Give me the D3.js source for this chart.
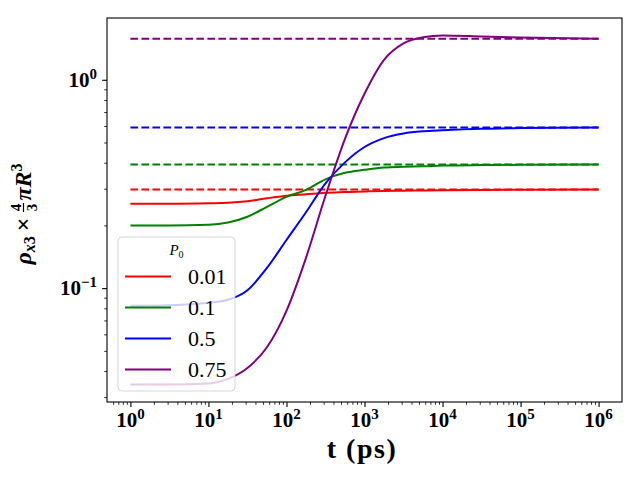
<!DOCTYPE html>
<html>
<head>
<meta charset="utf-8">
<script src="https://cdn.jsdelivr.net/npm/d3@7"></script>
<style>
  body { margin: 0; background: #fff; }
  svg { display: block; font-family: "Liberation Serif", "DejaVu Serif", serif; }
</style>
</head>
<body>
<svg width="640" height="480"></svg>
<script>
// time grid in ps (shared by all the curves)
var times = [1, 3.16, 10, 17.8, 31.6, 56.2, 100, 178, 316, 562, 1000, 1780, 3160, 5620, 10000, 31600, 100000, 1000000];

// legend labels (P0) and colours
var p0Labels = ["0.01", "0.1", "0.5", "0.75"];
var colors = ["red", "green", "blue", "purple"];

// rho_x3 * 4/3 pi R^3 for each P0
var rhoP001 = [0.254, 0.254, 0.2554, 0.2568, 0.2611, 0.2698, 0.2774, 0.282, 0.2868, 0.289, 0.2909, 0.2925, 0.2935, 0.2944, 0.2951, 0.2961, 0.2964, 0.2971];
var rhoP01 = [0.1998, 0.1998, 0.2013, 0.2064, 0.22, 0.2456, 0.2744, 0.2963, 0.3329, 0.3576, 0.3697, 0.3793, 0.3822, 0.3843, 0.3873, 0.3895, 0.3908, 0.3921];
var rhoP05 = [0.0822, 0.0827, 0.085, 0.0879, 0.0977, 0.125, 0.1702, 0.2312, 0.3181, 0.4014, 0.4757, 0.525, 0.5524, 0.5659, 0.5722, 0.5818, 0.5863, 0.5902];
var rhoP075 = [0.0345, 0.0345, 0.0349, 0.0367, 0.0414, 0.052, 0.0778, 0.1398, 0.2774, 0.5209, 0.8565, 1.247, 1.497, 1.6, 1.632, 1.614, 1.594, 1.573];

// dashed equilibrium levels
var plateaus = [0.2974, 0.392, 0.590, 1.573];

// tick values
var xMajorExp = [0, 1, 2, 3, 4, 5, 6];
var yMajorExp = [-1, 0];

var series = [rhoP001, rhoP01, rhoP05, rhoP075];

var svg = d3.select("svg"),
    margin = {top: 18, right: 18, bottom: 78, left: 107},
    width = +svg.attr("width") - margin.left - margin.right,
    height = +svg.attr("height") - margin.top - margin.bottom;

var x = d3.scaleLog().domain([Math.pow(10, -0.3), Math.pow(10, 6.3)]).range([0, width]),
    y = d3.scaleLog().domain([Math.pow(10, -1.5465), Math.pow(10, 0.2965)]).range([height, 0]);

var g = svg.append("g")
    .attr("transform", "translate(" + margin.left + "," + margin.top + ")");

// minor tick positions 2..9 x 10^k inside the domain
function minors(scale) {
    var d = scale.domain(), out = [];
    for (var k = -3; k <= 7; k++) {
        for (var m = 2; m <= 9; m++) {
            var v = m * Math.pow(10, k);
            if (v >= d[0] && v <= d[1]) out.push(v);
        }
    }
    return out;
}

function styleAxis(sel, w) {
    sel.select(".domain").remove();
    sel.selectAll("line").attr("stroke", "#000").attr("stroke-width", w);
}

// x axis ticks
g.append("g")
    .attr("transform", "translate(0," + height + ")")
    .call(d3.axisBottom(x).tickValues(minors(x)).tickSize(2.8).tickFormat(""))
    .call(styleAxis, 0.8);
g.append("g")
    .attr("transform", "translate(0," + height + ")")
    .call(d3.axisBottom(x).tickValues(xMajorExp.map(function (e) { return Math.pow(10, e); })).tickSize(4.9).tickFormat(""))
    .call(styleAxis, 1.1);

// y axis ticks
g.append("g")
    .call(d3.axisLeft(y).tickValues(minors(y)).tickSize(2.8).tickFormat(""))
    .call(styleAxis, 0.8);
g.append("g")
    .call(d3.axisLeft(y).tickValues(yMajorExp.map(function (e) { return Math.pow(10, e); })).tickSize(4.9).tickFormat(""))
    .call(styleAxis, 1.1);

// tick labels as 10^k with superscripts
function expText(e) { return e < 0 ? "\u2212" + (-e) : "" + e; }

var xl = g.selectAll(".xlab").data(xMajorExp).enter().append("text")
    .attr("class", "xlab")
    .attr("x", function (e) { return x(Math.pow(10, e)); })
    .attr("y", height + 25)
    .attr("text-anchor", "middle")
    .attr("font-weight", "bold")
    .attr("font-size", 21);
xl.append("tspan").text("10");
xl.append("tspan").attr("dy", -8).attr("font-size", 15).text(function (e) { return expText(e); });

var yl = g.selectAll(".ylab").data(yMajorExp).enter().append("text")
    .attr("class", "ylab")
    .attr("x", -10)
    .attr("y", function (e) { return y(Math.pow(10, e)) + 7; })
    .attr("text-anchor", "end")
    .attr("font-weight", "bold")
    .attr("font-size", 21);
yl.append("tspan").text("10");
yl.append("tspan").attr("dy", -8).attr("font-size", 15).text(function (e) { return expText(e); });

// curves + dashed levels
var line = d3.line()
    .x(function (d) { return x(d[0]); })
    .y(function (d) { return y(d[1]); })
    .curve(d3.curveMonotoneX);

series.forEach(function (vals, i) {
    g.append("path")
        .datum(times.map(function (t, j) { return [t, vals[j]]; }))
        .attr("fill", "none")
        .attr("stroke", colors[i])
        .attr("stroke-width", 2)
        .attr("d", line);
    g.append("line")
        .attr("x1", x(times[0]))
        .attr("x2", x(times[times.length - 1]))
        .attr("y1", y(plateaus[i]))
        .attr("y2", y(plateaus[i]))
        .attr("stroke", colors[i])
        .attr("stroke-width", 2)
        .attr("stroke-dasharray", "7.7,3.3");
});

// frame
g.append("rect")
    .attr("width", width).attr("height", height)
    .attr("fill", "none").attr("stroke", "#000").attr("stroke-width", 1.1);

// legend
var leg = g.append("g").attr("transform", "translate(11,219)");
leg.append("rect")
    .attr("width", 117).attr("height", 154).attr("rx", 4)
    .attr("fill", "#fff").attr("fill-opacity", 0.8)
    .attr("stroke", "#ccc").attr("stroke-opacity", 0.8);
var title = leg.append("text")
    .attr("x", 58.5).attr("y", 18)
    .attr("text-anchor", "middle")
    .attr("font-size", 15).attr("font-style", "italic");
title.append("tspan").text("P");
title.append("tspan").attr("dy", 3).attr("font-size", 10).attr("font-style", "normal").text("0");

p0Labels.forEach(function (lab, i) {
    var yy = 39.5 + i * 31;
    leg.append("line")
        .attr("x1", 7).attr("x2", 53).attr("y1", yy).attr("y2", yy)
        .attr("stroke", colors[i]).attr("stroke-width", 2);
    leg.append("text")
        .attr("x", 70).attr("y", yy + 7.5)
        .attr("font-size", 22)
        .text(lab);
});

// x label
svg.append("text")
    .attr("x", 362).attr("y", 458)
    .attr("text-anchor", "middle")
    .attr("font-weight", "bold")
    .attr("font-size", 28)
    .attr("letter-spacing", 1.5)
    .text("t (ps)");

// y label: rho_x3 x 4/3 pi R^3, built piece by piece and rotated
var ylab = svg.append("g");
var cx = 0;
function piece(str, size, italic, dy) {
    var t = ylab.append("text")
        .attr("x", cx).attr("y", dy || 0)
        .attr("font-size", size)
        .attr("font-weight", "bold")
        .attr("font-style", italic ? "italic" : "normal")
        .text(str);
    cx += t.node().getComputedTextLength();
    return t;
}
piece("\u03C1", 24, true);
piece("x", 16, true, 4);
piece("3", 16, false, 4);
cx += 5;
piece("\u00D7", 24, false);
cx += 5;
var fx = cx;
ylab.append("text").attr("x", fx + 5).attr("y", -10).attr("text-anchor", "middle")
    .attr("font-size", 15).attr("font-weight", "bold").text("4");
ylab.append("text").attr("x", fx + 5).attr("y", 6).attr("text-anchor", "middle")
    .attr("font-size", 15).attr("font-weight", "bold").text("3");
ylab.append("line").attr("x1", fx + 0.5).attr("x2", fx + 9.5).attr("y1", -7.5).attr("y2", -7.5)
    .attr("stroke", "#000").attr("stroke-width", 1.2);
cx += 12;
piece("\u03C0", 24, true);
piece("R", 24, true);
piece("3", 16, false, -9);
ylab.attr("transform", "translate(31," + (214 + cx / 2) + ") rotate(-90)");
</script>
</body>
</html>
